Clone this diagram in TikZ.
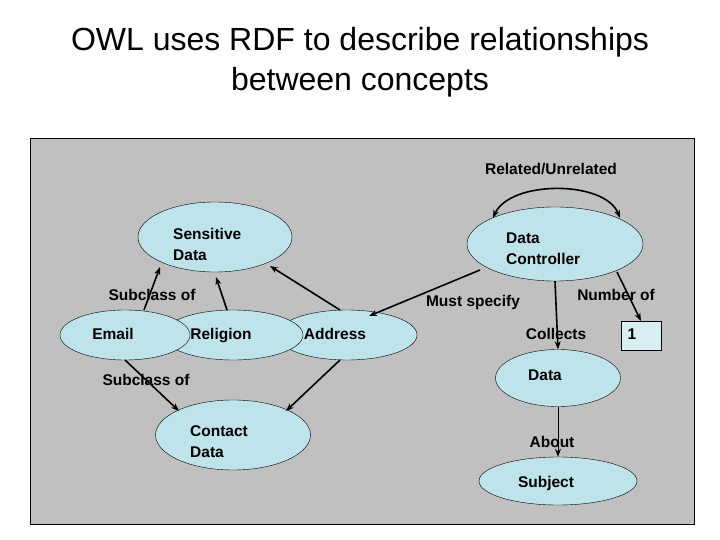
\documentclass[tikz,border=0pt]{standalone}
\usepackage{fontspec}
\setmainfont{Liberation Sans}
\usetikzlibrary{shapes.geometric,arrows.meta}
\begin{document}
\begin{tikzpicture}[x=1pt,y=-1pt,
  lab/.style={font=\bfseries\fontsize{15.5}{21}\selectfont,inner sep=0pt,text height=11pt,text depth=3pt},
  ml/.style={font=\bfseries\fontsize{15.5}{21}\selectfont,inner sep=0pt,align=left,anchor=west},
  arr/.style={draw=black,line width=1.6pt,-{Stealth[length=8pt,width=6pt]}}]
\definecolor{ovfill}{HTML}{BFE3EA}
\definecolor{panel}{HTML}{C0C0C0}
\useasboundingbox (0,0) rectangle (720,540);
\fill[white] (0,0) rectangle (720,540);
\node[font=\fontsize{32}{40}\selectfont,align=center] (title) at (360,62) {OWL uses RDF to describe relationships\\between concepts};
\node[draw=black,fill=panel,minimum width=664,minimum height=386,inner sep=0pt] (panel) at (362,331) {};
\tikzset{ov/.style 2 args={ellipse,draw=black,fill=ovfill,minimum width=#1,minimum height=#2,inner sep=0pt,font=\bfseries\fontsize{15.5}{21}\selectfont}}
\node[ov={154}{70}] (sens) at (215,237) {};
\node[ml] (senst) at (173,244) {Sensitive\\Data};
\node[ov={176}{74}] (dc) at (555,244) {};
\node[ml] (dct) at (506,249) {Data\\Controller};
\node[ov={140}{50}] (addr) at (347,335) {};
\node[ov={140}{50}] (rel) at (233,335) {};
\node[ov={130}{50}] (email) at (125,335) {};
\node[lab] (emailt) at (113,335) {Email};
\node[lab] (relt) at (221,335) {Religion};
\node[lab] (addrt) at (335,335) {Address};
\node[ov={155}{70}] (cont) at (233,435) {};
\node[ml] (contt) at (190,442) {Contact\\Data};
\node[ov={125}{57}] (data) at (558,378) {};
\node[lab] (datat) at (545,376) {Data};
\node[ov={158}{48}] (subj) at (558,481) {};
\node[lab] (subjt) at (546,483) {Subject};
\node[draw=black,fill=ovfill!60!white,minimum width=40,minimum height=29,inner sep=0pt] (one) at (641,335.5) {};
\node[lab] (onet) at (632,335) {1};
% arrows
\draw[arr] (144,310) -- (160,267);
\draw[arr] (227,310) -- (216,277);
\draw[arr] (340,310) -- (270,266);
\draw[arr] (125,360) -- (179,411);
\draw[arr] (340,360) -- (286,411);
\draw[arr] (480,270) -- (369,316);
\draw[arr] (dc.south) -- (data.north);
\draw[arr] (617,272) -- (641,321);
\draw[draw=black,line width=1pt,-{Stealth[length=8pt,width=6pt]}] (data.south) -- (subj.north);
\draw[draw=black,line width=1.6pt,{Stealth[length=8pt,width=6pt]}-{Stealth[length=8pt,width=6pt]}] (493,218) .. controls (510,180) and (605,180) .. (620,218);
% labels
\node[lab] (rl) at (551,171) {Related/Unrelated};
\node[lab] (s1) at (152,296) {Subclass of};
\node[lab] (s2) at (146,381) {Subclass of};
\node[lab] (ms) at (473,302) {Must specify};
\node[lab] (no) at (616,296) {Number of};
\node[lab] (co) at (556,335) {Collects};
\node[lab] (ab) at (552,443) {About};
\end{tikzpicture}
\end{document}
